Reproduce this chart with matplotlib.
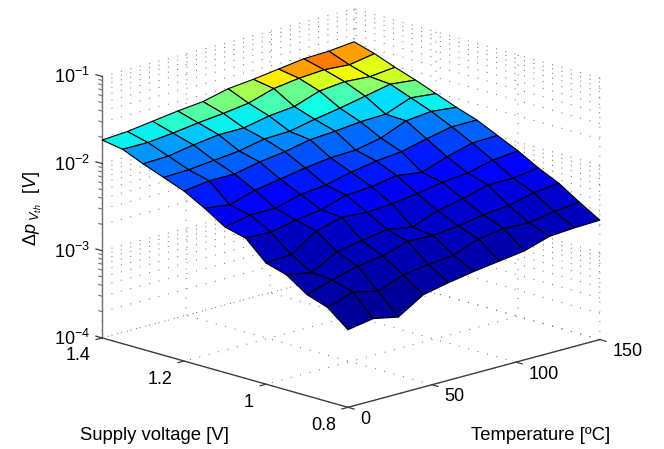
import numpy as np
import matplotlib
matplotlib.use('Agg')
import matplotlib.pyplot as plt
from mpl_toolkits.mplot3d import proj3d

plt.rcParams['font.family'] = ['Liberation Sans', 'DejaVu Sans']
plt.rcParams['mathtext.fontset'] = 'custom'
plt.rcParams['mathtext.rm'] = 'Liberation Sans'
plt.rcParams['mathtext.it'] = 'Liberation Sans:italic'
plt.rcParams['grid.color'] = '#666666'
plt.rcParams['grid.linewidth'] = 0.7
plt.rcParams['grid.linestyle'] = (0, (1, 9))

temperature = [0, 15, 30, 45, 60, 75, 90, 105, 120, 135, 150]
voltage = [1.4, 1.35, 1.3, 1.25, 1.2, 1.15, 1.1, 1.05, 1.0, 0.95, 0.9, 0.85, 0.8]

# log10 of delta p, one row per supply voltage
log_dp = [
    [-1.73, -1.71, -1.67, -1.63, -1.60, -1.53, -1.50, -1.46, -1.42, -1.41, -1.38],
    [-1.77, -1.77, -1.74, -1.70, -1.67, -1.63, -1.54, -1.50, -1.48, -1.50, -1.45],
    [-1.87, -1.86, -1.81, -1.77, -1.77, -1.71, -1.68, -1.58, -1.55, -1.57, -1.54],
    [-1.96, -1.95, -1.92, -1.89, -1.83, -1.82, -1.76, -1.71, -1.65, -1.59, -1.62],
    [-2.05, -2.01, -2.01, -1.95, -1.91, -1.85, -1.83, -1.80, -1.79, -1.68, -1.71],
    [-2.18, -2.22, -2.13, -2.08, -2.03, -1.99, -1.98, -1.92, -1.80, -1.77, -1.80],
    [-2.33, -2.27, -2.27, -2.19, -2.16, -2.09, -2.04, -2.01, -1.94, -1.88, -1.88],
    [-2.39, -2.40, -2.34, -2.30, -2.21, -2.19, -2.14, -2.18, -2.08, -2.00, -1.99],
    [-2.61, -2.59, -2.40, -2.32, -2.34, -2.32, -2.28, -2.23, -2.20, -2.13, -2.10],
    [-2.68, -2.73, -2.57, -2.52, -2.47, -2.52, -2.41, -2.35, -2.27, -2.27, -2.23],
    [-2.84, -2.75, -2.67, -2.63, -2.54, -2.55, -2.52, -2.47, -2.44, -2.37, -2.34],
    [-2.92, -2.82, -2.89, -2.78, -2.74, -2.71, -2.60, -2.56, -2.57, -2.52, -2.49],
    [-3.11, -3.06, -3.12, -2.94, -2.88, -2.83, -2.79, -2.75, -2.66, -2.64, -2.63],
]

# how far along jet each height sits, judged from the cell colours
color_levels = [-3.2, -2.6, -2.3, -2.1, -1.87, -1.77, -1.70, -1.63, -1.54, -1.48, -1.38]
color_steps = [0.015, 0.055, 0.105, 0.18, 0.27, 0.36, 0.45, 0.55, 0.66, 0.78, 0.85]

temp_ticks = [0, 50, 100, 150]
temp_labels = ['0', '50', '100', '150']
volt_ticks = [1.4, 1.2, 1.0, 0.8]
volt_labels = ['1.4', '1.2', '1', '0.8']
decades = [-4, -3, -2, -1]
decade_labels = ['10^{-4}', '10^{-3}', '10^{-2}', '10^{-1}']

W, H = 664, 449
AXIS_C = '#3c3c3c'

fig = plt.figure(figsize=(W / 100, H / 100), dpi=100)
size = 664
ax = fig.add_axes([(351 - 0.5135 * size) / W, (241 - 0.5135 * size) / H, size / W, size / H],
                  projection='3d', proj_type='ortho')
ax.view_init(elev=16, azim=-134.3)
ax.set_box_aspect((352, 352, 272), zoom=550.7 / size)
ax.patch.set_alpha(0)

T, V = np.meshgrid(temperature, voltage)
Z = np.array(log_dp)

# each cell takes its colour from the next row of vertices
colors = plt.cm.jet(np.interp(Z, color_levels, color_steps))
colors[:-1] = colors[1:].copy()
ax.plot_surface(T, V, Z, facecolors=colors, edgecolor='black', linewidth=0.8,
                rstride=1, cstride=1, shade=False, antialiased=True)

ax.set_xlim(0, 150)
ax.set_ylim(0.8, 1.4)
ax.set_zlim(-4, -1)

# log grid: major lines on decades plus the minor ones in between
minor = [d + np.log10(m) for d in decades[:-1] for m in range(2, 10)]
ax.set_xticks(temp_ticks)
ax.set_yticks(volt_ticks)
ax.set_zticks(sorted(decades + minor))
ax.set_xticklabels([])
ax.set_yticklabels([])
ax.set_zticklabels([])

for axis in (ax.xaxis, ax.yaxis, ax.zaxis):
    axis.set_pane_color((1, 1, 1, 0))
    axis.pane.set_edgecolor((1, 1, 1, 0))
    axis.line.set_color((1, 1, 1, 0))
    axis._axinfo['tick']['inward_factor'] = 0
    axis._axinfo['tick']['outward_factor'] = 0

# box edges and ticks
ax.plot([0, 150], [0.8, 0.8], [-4, -4], color=AXIS_C, lw=1)
ax.plot([0, 0], [0.8, 1.4], [-4, -4], color=AXIS_C, lw=1)
ax.plot([0, 0], [1.4, 1.4], [-4, -1], color='#707070', lw=1)
for t in temp_ticks:
    ax.plot([t, t], [0.8, 0.785], [-4, -4], color=AXIS_C, lw=0.9)
for v in volt_ticks:
    ax.plot([0, -3.6], [v, v], [-4, -4], color=AXIS_C, lw=0.9)
for d in decades:
    ax.plot([0, 0], [1.4, 1.415], [d, d], color=AXIS_C, lw=0.9)
for m in minor:
    ax.plot([0, 0], [1.4, 1.408], [m, m], color='#707070', lw=0.8)


def label_at(x, y, z, text, ha, size):
    # project by hand so the label is an ordinary 2D text at that spot
    px, py, _ = proj3d.proj_transform(x, y, z, ax.get_proj())
    ax.text2D(px, py, text, transform=ax.transData, ha=ha, va='center', fontsize=size)


for t, lab in zip(temp_ticks, temp_labels):
    label_at(t, 0.77, -4.1, lab, 'left', 13)
for v, lab in zip(volt_ticks, volt_labels):
    label_at(-7.1, v, -4.17, lab, 'right', 13)
for d, lab in zip(decades, decade_labels):
    label_at(0, 1.43, d - 0.05, '$\\mathregular{' + lab + '}$', 'right', 13)

fig.text(154 / W, 1 - 435 / H, 'Supply voltage [V]', ha='center', va='center', fontsize=13.3)
fig.text(541 / W, 1 - 435 / H, 'Temperature [ºC]', ha='center', va='center', fontsize=13.3)
fig.text(33 / W, 1 - 209 / H, r'$\mathit{\Delta p}_{\ \mathit{V}_{\mathit{th}}}$  $\mathit{[V]}$',
         rotation=90, ha='center', va='center', fontsize=13)

fig.savefig('out.png', dpi=100)
